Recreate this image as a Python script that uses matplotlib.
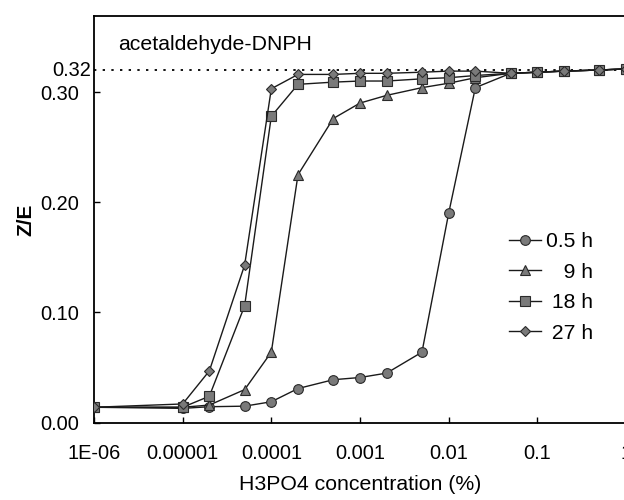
import numpy as np
import matplotlib
matplotlib.use('Agg')
import matplotlib.pyplot as plt
import matplotlib.transforms as mtransforms

plt.rcParams['font.family'] = ['Liberation Sans', 'DejaVu Sans']

# H3PO4 concentration (%) and Z/E ratio
conc = [1e-6, 1e-5, 2e-5, 5e-5, 1e-4, 2e-4, 5e-4, 1e-3, 2e-3, 5e-3, 1e-2, 2e-2,
        5e-2, 0.1, 0.2, 0.5, 1.0]
ze_05h = [0.014, 0.013, 0.0145, 0.015, 0.019, 0.031, 0.039, 0.041, 0.045, 0.064,
          0.190, 0.304, 0.317, 0.318, 0.319, 0.320, 0.321]
ze_9h = [0.014, 0.014, 0.016, 0.030, 0.064, 0.225, 0.276, 0.290, 0.297, 0.304,
         0.308, 0.313, 0.317, 0.318, 0.319, 0.320, 0.321]
ze_18h = [0.014, 0.014, 0.024, 0.106, 0.278, 0.307, 0.309, 0.310, 0.310, 0.312,
          0.313, 0.315, 0.317, 0.318, 0.319, 0.320, 0.321]
ze_27h = [0.014, 0.017, 0.047, 0.143, 0.303, 0.316, 0.316, 0.317, 0.317, 0.318,
          0.319, 0.319, 0.317, 0.318, 0.319, 0.320, 0.321]
eq_level = 0.32

xticks = [1e-6, 1e-5, 1e-4, 1e-3, 1e-2, 0.1, 1]
xticklabels = ['1E-06', '0.00001', '0.0001', '0.001', '0.01', '0.1', '1']
yticks = [0.0, 0.1, 0.2, 0.3]
yticklabels = ['0.00', '0.10', '0.20', '0.30']

fig = plt.figure(figsize=(6.24, 5.0), dpi=100)
ax = fig.add_axes([0.1506, 0.1546, 0.8526, 0.8134])

lc = '#1a1a1a'
fc = '#7a7a7a'
ec = '#2a2a2a'
ax.plot(conc, ze_05h, '-', color=lc, lw=1.0, marker='o', ms=7, mfc=fc, mec=ec, mew=0.8,
        label='0.5 h', zorder=3)
ax.plot(conc, ze_9h, '-', color=lc, lw=1.0, marker='^', ms=7, mfc=fc, mec=ec, mew=0.8,
        label='\u2007\u20089 h', zorder=3)
ax.plot(conc, ze_18h, '-', color=lc, lw=1.0, marker='s', ms=6.5, mfc=fc, mec=ec, mew=0.8,
        label='\u200818 h', zorder=3)
ax.plot(conc, ze_27h, '-', color=lc, lw=1.0, marker='D', ms=5, mfc=fc, mec=ec, mew=0.8,
        label='\u200827 h', zorder=3)

ax.axhline(eq_level, color='black', lw=1.3, linestyle=(0, (1.3, 3.5)), zorder=2)

ax.set_xscale('log')
ax.set_xlim(1e-6, 1.0)
ax.set_ylim(0, 0.369)
ax.set_xticks(xticks)
ax.set_xticklabels(xticklabels)
ax.minorticks_off()
ax.set_yticks(yticks)
ax.set_yticklabels(yticklabels)
ax.tick_params(axis='both', direction='in', length=4, width=1, labelsize=14.4)
ax.tick_params(axis='x', pad=15)
ax.tick_params(axis='y', pad=11)

trans = mtransforms.blended_transform_factory(ax.transAxes, ax.transData)
ax.text(-0.006, eq_level, '0.32', transform=trans, ha='right', va='center', fontsize=14.4)

for s in ['left', 'bottom', 'top']:
    ax.spines[s].set_linewidth(1.3)
ax.spines['right'].set_visible(False)

ax.text(0.045, 0.931, 'acetaldehyde-DNPH', transform=ax.transAxes, fontsize=15.3,
        ha='left', va='center')

ax.set_xlabel('H3PO4 concentration (%)', fontsize=15.3, labelpad=9)
ax.set_ylabel('Z/E', fontsize=15, fontweight='bold', labelpad=3)

leg = ax.legend(loc='upper left', bbox_to_anchor=(0.816, 0.536),
                bbox_transform=fig.transFigure, frameon=False, fontsize=15.2,
                handlelength=1.5, handletextpad=0.25, labelspacing=0.55,
                borderpad=0, borderaxespad=0)

fig.savefig('out.png', dpi=100)
